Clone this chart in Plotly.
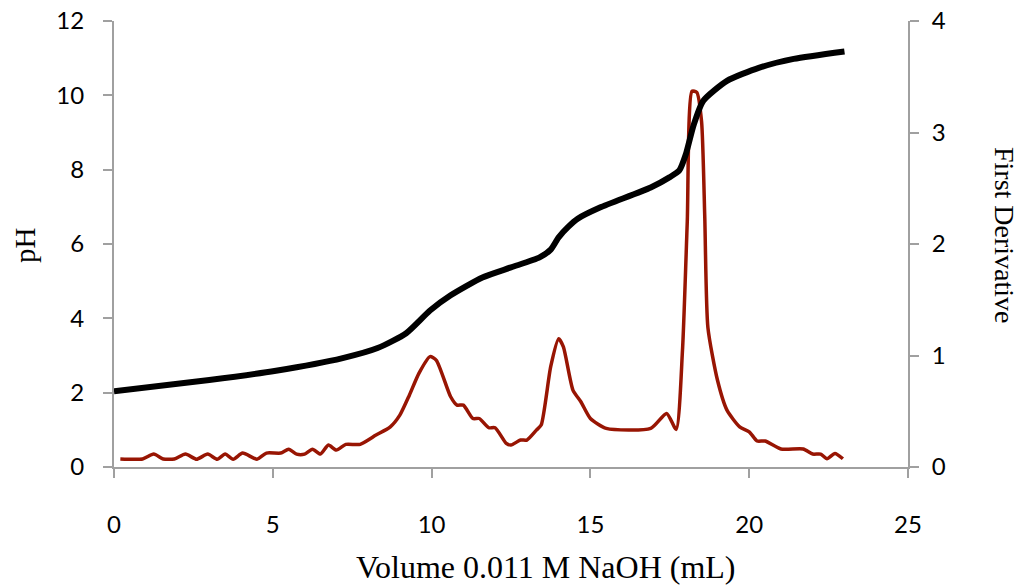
import plotly.graph_objects as go

# pH titration curve
vol_ph = [0, 3.0, 5.1, 7.2, 8.3, 9.2, 9.95, 10.6, 11.6, 12.5, 13.4, 13.75, 14.0, 14.3, 14.6, 15.3,
          16.9, 17.5, 17.8, 18.0, 18.25, 18.55, 19.3, 20.3, 21.4, 23.0]
ph = [2.04, 2.34, 2.59, 2.93, 3.2, 3.6, 4.21, 4.62, 5.1, 5.37, 5.64, 5.85, 6.18, 6.46, 6.68, 6.98,
      7.52, 7.8, 7.98, 8.4, 9.2, 9.85, 10.39, 10.74, 10.98, 11.18]

# First derivative
vol_d = [0.2, 0.9, 1.25, 1.55, 1.9, 2.25, 2.6, 2.95, 3.25, 3.5, 3.75, 4.05, 4.5, 4.8, 5.25, 5.5,
         5.75, 6.0, 6.25, 6.5, 6.75, 7.0, 7.3, 7.75, 8.25, 8.7, 9.0, 9.3, 9.6, 9.95, 10.15, 10.6,
         10.8, 11.0, 11.3, 11.5, 11.8, 12.0, 12.35, 12.5, 12.8, 13.0, 13.3, 13.45, 13.75, 14.0,
         14.15, 14.45, 14.7, 15.0, 15.5, 16.9, 17.4, 17.7, 17.9, 18.05, 18.2, 18.35, 18.5, 18.6,
         18.7, 19.0, 19.3, 19.7, 20.0, 20.25, 20.5, 21.0, 21.7, 22.0, 22.25, 22.45, 22.7, 22.95]
deriv = [0.072, 0.072, 0.116, 0.072, 0.072, 0.116, 0.07, 0.116, 0.07, 0.116, 0.07, 0.125, 0.07,
         0.125, 0.125, 0.16, 0.116, 0.116, 0.16, 0.116, 0.197, 0.152, 0.203, 0.203, 0.286, 0.36,
         0.465, 0.644, 0.84, 0.99, 0.957, 0.63, 0.555, 0.555, 0.435, 0.435, 0.352, 0.352, 0.212,
         0.197, 0.242, 0.242, 0.331, 0.376, 0.9, 1.15, 1.077, 0.69, 0.585, 0.435, 0.346, 0.346,
         0.48, 0.337, 1.05, 2.2, 3.37, 3.36, 3.1, 2.25, 1.25, 0.78, 0.51, 0.36, 0.316, 0.233,
         0.233, 0.161, 0.161, 0.116, 0.116, 0.074, 0.122, 0.074]

x_ticks = [0, 5, 10, 15, 20, 25]

AXIS = "#A0A0A0"
TICKFONT = dict(family="Lato", size=24, color="#000000")

fig = go.Figure()
fig.add_trace(go.Scatter(x=vol_d, y=deriv, mode="lines", yaxis="y",
                         line=dict(color="#981503", width=3.5, shape="spline", smoothing=0.6),
                         showlegend=False, hoverinfo="skip"))
fig.add_trace(go.Scatter(x=vol_ph, y=ph, mode="lines", yaxis="y2",
                         line=dict(color="#000000", width=6, shape="spline", smoothing=0.6),
                         showlegend=False, hoverinfo="skip"))

common = dict(showline=True, linecolor=AXIS, linewidth=2, ticks="outside", ticklen=9,
              tickcolor=AXIS, tickwidth=2, showgrid=False, zeroline=False, tickfont=TICKFONT,
              automargin=False)

T, B = 21, 119
plot_h = 586 - T - B

def py(p):
    return (586 - B - p) / plot_h

fig.update_layout(
    width=1029, height=586,
    margin=dict(l=114, r=121, t=T, b=B, autoexpand=False),
    paper_bgcolor="white", plot_bgcolor="white",
    xaxis=dict(range=[0, 25], tickvals=x_ticks, ticklabelstandoff=26, **common),
    yaxis=dict(range=[0, 4], dtick=1, side="right", ticklabelstandoff=8, **common),
    yaxis2=dict(range=[0, 12], dtick=2, side="left", overlaying="y", ticklabelstandoff=14, **common),
    annotations=[
        dict(text="Volume 0.011 M NaOH (mL)", xref="paper", yref="paper",
             x=(546 - 114) / 794, y=py(567), xanchor="center", yanchor="middle",
             showarrow=False, font=dict(family="Liberation Serif", size=32, color="#000000")),
        dict(text="pH", xref="paper", yref="paper", x=(25 - 114) / 794, y=py(245),
             xanchor="center", yanchor="middle", textangle=-90, showarrow=False,
             font=dict(family="Liberation Serif", size=29, color="#000000")),
        dict(text="First Derivative", xref="paper", yref="paper", x=(1005 - 114) / 794,
             y=py(235), xanchor="center", yanchor="middle", textangle=90,
             showarrow=False, font=dict(family="Liberation Serif", size=28, color="#000000")),
    ],
)

fig.write_html("out.html")
